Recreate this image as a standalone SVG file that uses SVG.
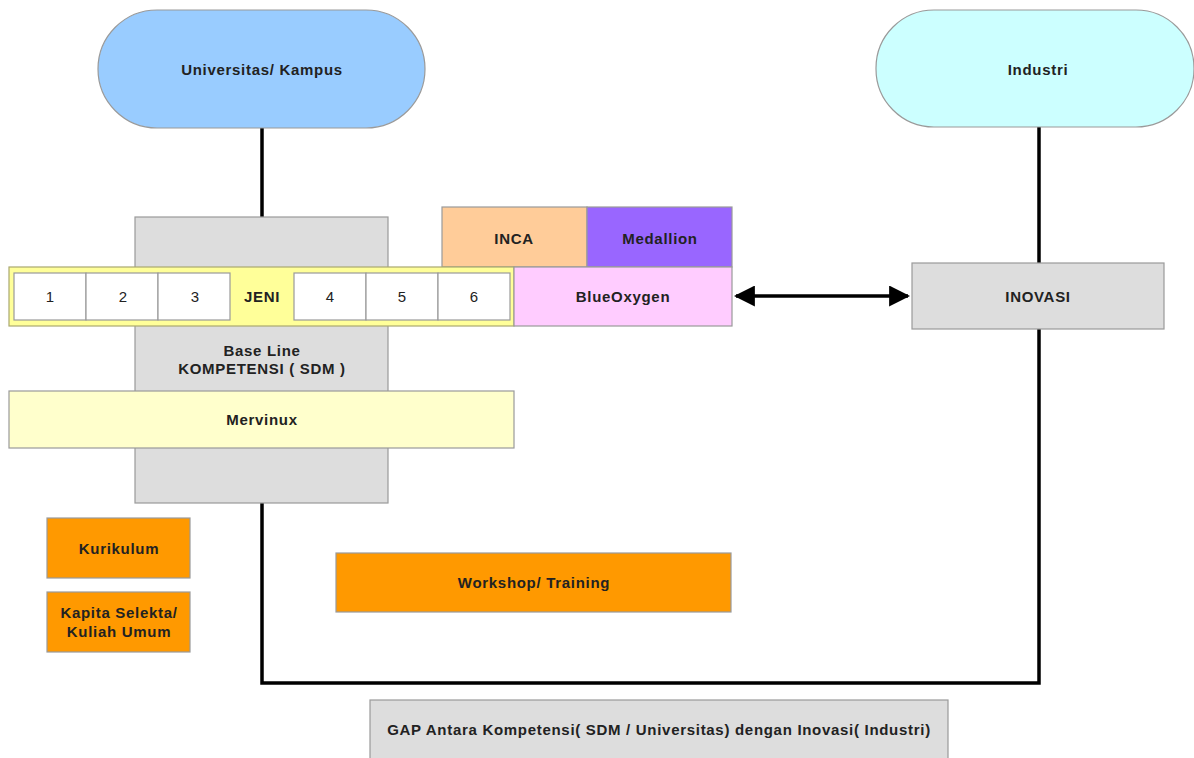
<svg xmlns="http://www.w3.org/2000/svg" width="1194" height="758" viewBox="0 0 1194 758">
<defs>
<style>
.b{stroke:#9a9a9a;stroke-width:1.2}
.t{font-family:"Liberation Sans",Arial,sans-serif;font-size:15px;letter-spacing:0.7px;font-weight:bold;fill:#222;text-anchor:middle;dominant-baseline:central}
.n{font-family:"Liberation Sans",Arial,sans-serif;font-size:15px;fill:#222;text-anchor:middle;dominant-baseline:central}
.c{stroke:#000;stroke-width:3.5;fill:none}
</style>
<marker id="ah" viewBox="0 0 10 10" refX="9" refY="5" markerWidth="6" markerHeight="6" orient="auto-start-reverse" markerUnits="strokeWidth">
<path d="M0,0 L10,5 L0,10 z" fill="#000"/>
</marker>
</defs>
<rect width="1194" height="758" fill="#fff"/>
<g id="connectors">
<path class="c" d="M262,128 V217"/>
<path class="c" d="M262,503 V683 H1039 V329"/>
<path class="c" d="M1039,127 V263"/>
<path class="c" d="M736,296 H908" marker-start="url(#ah)" marker-end="url(#ah)"/>
</g>
<g id="universitas">
<rect class="b" x="98" y="10" width="327" height="118" rx="59" fill="#99ccff"/>
<text class="t" x="262" y="69">Universitas/ Kampus</text>
</g>
<g id="industri">
<rect class="b" x="876" y="10" width="318" height="117" rx="58" fill="#ccffff"/>
<text class="t" x="1038" y="69">Industri</text>
</g>
<g id="baseline">
<rect class="b" x="135" y="217" width="253" height="286" fill="#dddddd"/>
<text class="t" x="262" y="350">Base Line</text>
<text class="t" x="262" y="368">KOMPETENSI ( SDM )</text>
</g>
<g id="inca">
<rect class="b" x="442" y="207" width="145" height="60" fill="#ffcc99"/>
<text class="t" x="514" y="238">INCA</text>
</g>
<g id="medallion">
<rect class="b" x="587" y="207" width="145" height="60" fill="#9966ff"/>
<text class="t" x="660" y="238">Medallion</text>
</g>
<g id="jeni">
<rect x="9" y="267" width="505" height="59" fill="#ffff99" stroke="#aaa870" stroke-width="1.2"/>
<text class="t" x="262" y="296">JENI</text>
</g>
<g id="n1"><rect class="b" x="14" y="273" width="72" height="47" fill="#fff"/><text class="n" x="50" y="296">1</text></g>
<g id="n2"><rect class="b" x="86" y="273" width="72" height="47" fill="#fff"/><text class="n" x="123" y="296">2</text></g>
<g id="n3"><rect class="b" x="158" y="273" width="72" height="47" fill="#fff"/><text class="n" x="195" y="296">3</text></g>
<g id="n4"><rect class="b" x="294" y="273" width="72" height="47" fill="#fff"/><text class="n" x="330" y="296">4</text></g>
<g id="n5"><rect class="b" x="366" y="273" width="72" height="47" fill="#fff"/><text class="n" x="402" y="296">5</text></g>
<g id="n6"><rect class="b" x="438" y="273" width="72" height="47" fill="#fff"/><text class="n" x="474" y="296">6</text></g>
<g id="blueoxygen">
<rect class="b" x="514" y="267" width="218" height="59" fill="#ffccff"/>
<text class="t" x="623" y="296">BlueOxygen</text>
</g>
<g id="inovasi">
<rect class="b" x="912" y="263" width="252" height="66" fill="#dddddd"/>
<text class="t" x="1038" y="296">INOVASI</text>
</g>
<g id="mervinux">
<rect class="b" x="9" y="391" width="505" height="57" fill="#ffffcc"/>
<text class="t" x="262" y="419">Mervinux</text>
</g>
<g id="kurikulum">
<rect class="b" x="47" y="518" width="143" height="60" fill="#ff9900"/>
<text class="t" x="119" y="548">Kurikulum</text>
</g>
<g id="kapita">
<rect class="b" x="47" y="592" width="143" height="60" fill="#ff9900"/>
<text class="t" x="119" y="612">Kapita Selekta/</text>
<text class="t" x="119" y="631">Kuliah Umum</text>
</g>
<g id="workshop">
<rect class="b" x="336" y="553" width="395" height="59" fill="#ff9900"/>
<text class="t" x="534" y="582">Workshop/ Training</text>
</g>
<g id="gap">
<rect class="b" x="370" y="700" width="578" height="62" fill="#dddddd"/>
<text class="t" x="659" y="729">GAP Antara Kompetensi( SDM / Universitas) dengan Inovasi( Industri)</text>
</g>
</svg>
